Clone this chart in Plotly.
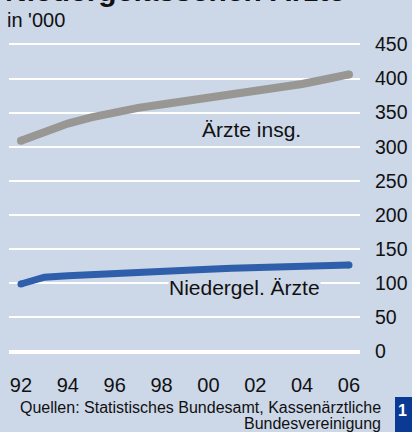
import plotly.graph_objects as go

years = list(range(1992, 2007))
aerzte_insg = [309, 322, 334, 343, 351, 357, 362, 367, 371, 376, 381, 386, 392, 399, 406]
niedergel = [99, 109, 111, 113, 115, 116.5, 118, 119.5, 120.5, 122, 123, 124, 125, 126, 127]
x_tickvals = [1992, 1994, 1996, 1998, 2000, 2002, 2004, 2006]
x_ticktext = ["92", "94", "96", "98", "00", "02", "04", "06"]
y_tickvals = [0, 50, 100, 150, 200, 250, 300, 350, 400, 450]

BG = "#CCD7E8"
GRAY = "#999794"
BLUE = "#2F5EAB"
FONT = "Liberation Sans, Arial, Helvetica, sans-serif"

W, H = 412, 432
ML, MR, MT, MB = 9, 52, 41, 77
PW, PH = W - ML - MR, H - MT - MB

def px_x(px):
    return (px - ML) / PW

def px_y(py):
    return (H - MB - py) / PH

fig = go.Figure()
fig.add_trace(go.Scatter(x=years, y=aerzte_insg, mode="lines",
                         line=dict(color=GRAY, width=8), hoverinfo="skip"))
fig.add_trace(go.Scatter(x=[years[0], years[-1]], y=[aerzte_insg[0], aerzte_insg[-1]], mode="markers",
                         marker=dict(color=GRAY, size=8, line=dict(width=0)), hoverinfo="skip"))
fig.add_trace(go.Scatter(x=years, y=niedergel, mode="lines",
                         line=dict(color=BLUE, width=7), hoverinfo="skip"))
fig.add_trace(go.Scatter(x=[years[0], years[-1]], y=[niedergel[0], niedergel[-1]], mode="markers",
                         marker=dict(color=BLUE, size=7, line=dict(width=0)), hoverinfo="skip"))

fig.update_layout(
    width=W, height=H,
    margin=dict(l=ML, r=MR, t=MT, b=MB, pad=0, autoexpand=False),
    paper_bgcolor=BG, plot_bgcolor=BG,
    showlegend=False,
    font=dict(family=FONT, color="#111111"),
    xaxis=dict(range=[1991.49, 2006.47], tickvals=x_tickvals, ticktext=x_ticktext,
               showgrid=False, zeroline=False, showline=False, ticks="", automargin=False,
               tickfont=dict(size=20, color="#111111"), ticklabelstandoff=16, fixedrange=True),
    yaxis=dict(range=[-5, 455], tickvals=y_tickvals, side="right", automargin=False,
               showgrid=True, gridcolor="white", gridwidth=2,
               zeroline=True, zerolinecolor="white", zerolinewidth=4,
               showline=False, ticks="", tickfont=dict(size=19.5, color="#111111"),
               ticklabelstandoff=14, fixedrange=True),
)

annotations = [
    dict(text="<b>Niedergelassenen Ärzte</b>", xref="paper", yref="paper",
         x=px_x(3), y=px_y(9), xanchor="left", yanchor="bottom", showarrow=False,
         font=dict(size=30, color="#111111", family=FONT)),
    dict(text="in '000", xref="paper", yref="paper",
         x=px_x(5), y=px_y(20), xanchor="left", yanchor="middle", showarrow=False,
         font=dict(size=20, color="#111111", family=FONT)),
    dict(text="Ärzte insg.", xref="x", yref="y", x=1999.66, y=325,
         xanchor="left", yanchor="middle", showarrow=False,
         font=dict(size=21, color="#111111", family=FONT)),
    dict(text="Niedergel. Ärzte", xref="x", yref="y", x=2004.79, y=94,
         xanchor="right", yanchor="middle", showarrow=False, bgcolor=BG, borderpad=0,
         font=dict(size=21, color="#111111", family=FONT)),
    dict(text="Quellen: Statistisches Bundesamt, Kassenärztliche", xref="paper", yref="paper",
         x=px_x(383), y=px_y(407), xanchor="right", yanchor="middle", showarrow=False,
         font=dict(size=16, color="#111111", family=FONT)),
    dict(text="Bundesvereinigung", xref="paper", yref="paper",
         x=px_x(383), y=px_y(423), xanchor="right", yanchor="middle", showarrow=False,
         font=dict(size=16, color="#111111", family=FONT)),
    dict(text="<b>1</b>", xref="paper", yref="paper",
         x=px_x(396), y=px_y(400), xanchor="left", yanchor="top", showarrow=False,
         font=dict(size=16, color="white", family=FONT)),
]
fig.update_layout(annotations=annotations)

fig.add_shape(type="rect", xref="paper", yref="paper",
              x0=px_x(395), x1=px_x(414), y0=px_y(397), y1=px_y(434),
              fillcolor="#0B3A94", line=dict(width=0), layer="below")

fig.write_html("out.html", config={"displayModeBar": False},
               post_script="document.body.style.margin='0';document.body.style.overflow='hidden';")
